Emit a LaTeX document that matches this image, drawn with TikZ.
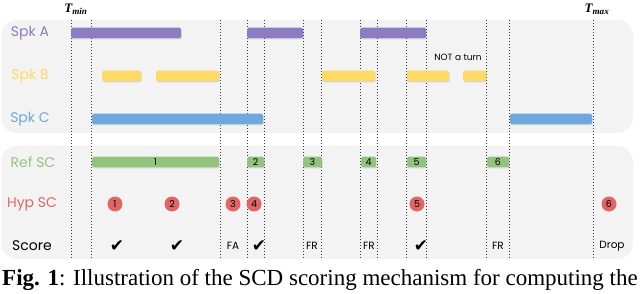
\documentclass[tikz,border=0pt]{standalone}
\usepackage{fontspec}
\setmainfont{Liberation Serif}
\newfontfamily\gsans{Poppins}
\newfontfamily\symfont{DejaVu Sans}
\usepackage{xcolor}
\usetikzlibrary{shadows}
\definecolor{spka}{HTML}{8E7CC3}
\definecolor{spkb}{HTML}{FFD966}
\definecolor{spkc}{HTML}{6FA8DC}
\definecolor{refgreen}{HTML}{93C47D}
\definecolor{hypred}{HTML}{E06666}
\definecolor{panelgray}{HTML}{F3F3F3}
\newcommand{\chk}{{\symfont\fontsize{17}{18}\selectfont ✔}}

\begin{document}
\begin{tikzpicture}[x=1pt, y=-1pt,
  panel/.style={fill=panelgray, rounded corners=16pt},
  seg/.style={rounded corners=1.5pt, minimum height=10.5pt, inner sep=0pt,
              drop shadow={shadow xshift=0.6pt, shadow yshift=-1.2pt, opacity=0.25}},
  pa/.style={seg, fill=spka},
  pb/.style={seg, fill=spkb},
  pc/.style={seg, fill=spkc},
  rf/.style={seg, fill=refgreen, font=\gsans\fontsize{9.5}{10}\selectfont},
  hyp/.style={circle, fill=hypred, minimum size=15pt, inner sep=0pt,
              font=\gsans\fontsize{9.5}{10}\selectfont},
  lbl/.style={font=\gsans\fontsize{14}{16}\selectfont, inner sep=0pt},
  mk/.style={font=\gsans\fontsize{10.5}{12}\selectfont, inner sep=0pt},
  vl/.style={gray!45!black, line width=0.9pt, dash pattern=on 0.9pt off 2.1pt},
  tlim/.style={font=\fontsize{13}{14}\selectfont\bfseries\itshape, inner sep=0pt},
]
\useasboundingbox (0,0) rectangle (640,294);
\clip (0,0) rectangle (640,294);

% --- panels ---
\fill[panel] (1,20) rectangle (633,133);
\fill[panel] (1,146) rectangle (633,259);

% --- time marks ---
\foreach \x in {71,91,220,247,264,303,321,360,377,406,426,486,509,593}
  \draw[vl] (\x,20) -- (\x,259);
\node[tlim] (tmin) at (76,9) {T\textsubscript{min}};
\node[tlim] (tmax) at (597,9) {T\textsubscript{max}};

% --- speakers ---
\node[lbl, text=spka] (la) at (30,33) {Spk A};
\node[lbl, text=spkb] (lb) at (30,76) {Spk B};
\node[lbl, text=spkc] (lc) at (30,119) {Spk C};
\foreach \i/\l/\r in {1/71/181, 2/247/303, 3/360/426}
  \node[pa, minimum width=\r-\l] (a\i) at ({(\l+\r)/2},33) {};
\foreach \i/\l/\r in {1/102/141, 2/156/219, 3/322/375, 4/407/449, 5/463/486}
  \node[pb, minimum width=\r-\l] (b\i) at ({(\l+\r)/2},76) {};
\foreach \i/\l/\r in {1/92/263, 2/510/592}
  \node[pc, minimum width=\r-\l] (c\i) at ({(\l+\r)/2},119) {};
\node[mk, font=\gsans\fontsize{9}{10}\selectfont] (nt) at (458,57) {NOT a turn};

% --- reference / hypothesis ---
\node[lbl, text=refgreen] (lr) at (33,162) {Ref SC};
\node[lbl, text=hypred] (lh) at (32,204) {Hyp SC};
\node[lbl] (ls) at (32,246) {Score};
\foreach \i/\l/\r in {1/92/219, 2/247/264, 3/303/322, 4/361/376, 5/407/426, 6/487/509}
  \node[rf, minimum width=\r-\l] (r\i) at ({(\l+\r)/2},162) {\i};
\foreach \i/\x in {1/115, 2/172, 3/233, 4/254, 5/417, 6/609}
  \node[hyp] (h\i) at (\x,204) {\i};

% --- score ---
\node[mk] (s1) at (117,246) {\chk};
\node[mk] (s2) at (177,246) {\chk};
\node[mk] (s3) at (233,246) {FA};
\node[mk] (s4) at (259,246) {\chk};
\node[mk] (s5) at (312,246) {FR};
\node[mk] (s6) at (369,246) {FR};
\node[mk] (s7) at (421,246) {\chk};
\node[mk] (s8) at (498,246) {FR};
\node[mk] (s9) at (612,246) {Drop};

% --- caption ---
\node[anchor=base west, inner sep=0pt, font=\fontsize{23}{26}\selectfont] (cap) at (2,285)
  {\textbf{Fig. 1}: Illustration of the SCD scoring mechanism for computing the};
\end{tikzpicture}
\end{document}
